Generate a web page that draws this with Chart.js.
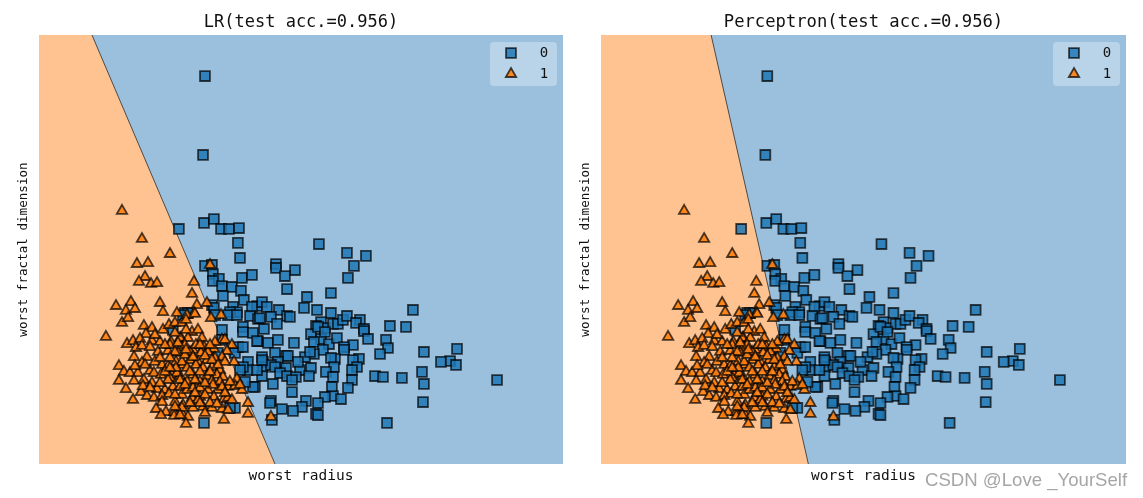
<!DOCTYPE html>
<html>
<head>
<meta charset="utf-8">
<script src="https://cdn.jsdelivr.net/npm/chart.js@4"></script>
<style>
    html, body { margin: 0; background: #fff; overflow: hidden; }
    #page { position: relative; width: 1143px; height: 498px; overflow: hidden; }
    canvas { position: absolute; top: 0; }
    #mark { position: absolute; left: 925px; top: 469px; font: 18.6px 'Liberation Sans'; color: #a6a6a6; white-space: nowrap; }
</style>
</head>
<body>
<div id="page">
    <canvas id="lr" width="582" height="498" style="left:0"></canvas>
    <canvas id="perceptron" width="581" height="498" style="left:562px"></canvas>
    <div id="mark">CSDN @Love _YourSelf</div>
</div>
<script>
const classNames = ['0', '1']
const xLabel = 'worst radius'
const yLabel = 'worst fractal dimension'

// each pair of rows lines up
const benignRadius = [
    15.10, 14.96, 13.23, 15.03, 15.74, 16.25, 16.82, 17.54, 17.46, 17.61,
    15.10, 15.60, 15.67, 16.10, 15.67, 16.32, 17.03, 17.75, 18.47, 17.68,
    16.39, 17.89, 17.11, 18.83, 19.19, 19.54, 18.47, 15.60,
    15.74, 13.66, 13.88, 17.39, 16.89, 18.33, 23.27, 25.28, 26.64, 25.78,
    25.35, 21.55, 20.19, 20.19, 20.83, 20.98, 22.41, 24.13, 22.20, 23.13,
    24.13, 20.40, 20.98, 21.19, 19.83, 18.90, 20.26, 19.33, 23.42, 23.06,
    23.70, 24.28, 24.63, 24.99, 25.28, 26.21, 25.93, 26.50, 28.36,
    18.90, 19.62, 20.33, 21.48, 22.70, 23.42, 23.20, 23.70, 22.91, 23.99,
    24.56, 26.50, 26.79, 25.71, 25.07, 25.07, 28.08, 28.22, 27.65, 23.56,
    22.91, 22.27, 22.63, 20.12, 20.91, 21.05, 19.19, 24.42, 24.13, 26.14,
    25.71, 26.00, 24.35, 23.77, 25.64, 24.28, 22.70, 21.91, 21.77, 19.26,
    20.33, 19.26, 19.83, 20.12, 20.91, 20.48, 20.98, 19.19, 21.62, 21.34,
    22.56, 27.29, 27.86, 25.64, 19.97, 18.68, 24.20, 25.35, 21.34, 24.28,
    23.70, 24.85, 22.34, 23.20, 22.05, 21.41, 20.62, 19.83, 19.76, 23.06,
    23.20, 19.90, 28.15, 30.01, 29.51, 30.80, 33.17, 32.67, 33.10, 32.02,
    30.66, 30.80, 36.04, 29.22, 30.73, 15.03, 17.25, 18.54, 18.18, 18.18,
    18.83, 17.82, 17.82, 18.54, 18.83, 16.32, 16.32, 16.75, 17.39, 19.04,
    15.82, 17.46, 17.97, 17.25, 16.03, 17.82, 16.89, 17.82, 19.19, 17.61,
    12.80, 13.52
]
const benignFractal = [
    .2070, .1730, .1411, .1437, .1454, .1411, .1411, .1415, .1351, .1286,
    .1252, .1256, .1217, .1196, .1187, .1165, .1161, .1200, .1213, .1144,
    .1122, .1105, .1075, .1079, .1096, .1075, .1075, .1083,
    .1071, .1049, .1049, .1053, .1053, .1036, .1346, .1308, .1295, .1252,
    .1200, .1234, .1260, .1243, .1208, .1152, .1118, .1135, .1071, .1062,
    .1049, .1062, .1036, .1032, .1032, .1023, .1002, .0980, .1010, .0993,
    .0984, .1002, .1002, .1019, .1036, .1019, .1006, .0980, .0993,
    .0928, .0920, .0933, .0920, .0958, .0937, .0989, .0967, .0924, .0915,
    .0941, .0971, .0937, .0911, .0902, .0890, .0933, .0898, .0872, .0890,
    .0872, .0859, .0881, .0877, .0864, .0864, .0859, .0851, .0855, .0851,
    .0846, .0816, .0816, .0795, .0803, .0773, .0812, .0803, .0838, .0838,
    .0838, .0816, .0825, .0816, .0812, .0790, .0777, .0777, .0773, .0760,
    .0777, .0777, .0773, .0760, .0743, .0730, .0730, .0726, .0708, .0691,
    .0687, .0678, .0670, .0661, .0644, .0627, .0635, .0670, .0661, .0614,
    .0609, .0588, .0575, .1062, .0989, .0881, .0894, .0842, .0825, .0838,
    .0795, .0743, .0760, .0769, .0665, .0575, .0640, .0730, .0838, .0803,
    .0803, .0989, .0967, .0963, .0928, .0976, .0933, .1040, .1040, .1027,
    .1040, .0902, .0752, .0877, .0877, .0816, .0640, .0902, .0846, .0803,
    .0976, .1040
]
const malignantRadius = [
    9.15, 10.58, 12.59, 10.22, 11.01, 15.46, 10.80, 10.37, 11.23, 11.66,
    14.31, 14.17, 11.87, 14.52, 15.24, 9.79, 8.72, 9.43, 10.08, 12.09,
    14.31, 16.25, 8.00, 9.15, 9.58, 10.72, 11.30, 10.87, 9.51, 9.94,
    10.44, 11.30, 12.09, 12.52, 13.09, 12.95, 13.45, 11.87, 12.66, 13.38,
    10.15, 10.58, 11.16, 11.73, 12.45, 13.38, 10.01, 10.94, 10.58, 11.51,
    8.93, 9.29, 9.72, 10.29, 11.16, 11.44, 12.02, 12.45, 13.02, 13.52,
    8.93, 10.01, 10.72, 11.30, 11.94, 12.73, 13.31, 9.43, 10.51, 10.65,
    10.94, 11.66, 12.23, 12.80, 13.31, 9.94, 11.44, 12.02, 12.52, 12.95,
    13.45, 12.02, 11.59, 12.30, 12.88, 11.94, 12.88, 13.52, 13.52, 13.81,
    14.38, 15.53, 13.74, 14.17, 14.60, 14.88, 13.31, 13.88, 15.03, 15.74,
    16.32, 16.53, 17.03, 16.68, 16.32, 17.18, 14.24, 14.81, 15.31, 13.16,
    14.02, 14.60, 15.24, 15.82, 16.53, 13.45, 13.81, 14.45, 14.96, 15.60,
    16.17, 13.09, 14.24, 15.24, 15.96, 16.39, 13.31, 13.81, 14.74, 15.60,
    16.17, 17.39, 13.81, 14.24, 15.31, 16.03, 16.75, 17.25, 17.75, 14.74,
    14.17, 16.46, 15.74, 18.18, 14.96, 15.60, 16.32, 14.24, 13.45, 16.75,
    13.88, 13.31, 13.74, 16.46, 18.18, 15.10, 14.60, 16.89, 16.75, 19.83,
    12.59, 12.95, 13.66, 14.02, 14.45, 14.74, 13.66, 14.24, 15.10, 12.59,
    13.02, 12.59, 14.02, 14.74, 15.46, 13.66, 14.74, 15.67, 16.32, 15.10,
    14.38, 12.95, 12.45, 11.87, 15.46, 14.74, 14.02, 12.95, 15.96, 17.03,
    13.16, 13.74, 15.82, 15.46, 12.23, 12.59, 14.38, 15.10, 16.53, 17.61,
    15.60, 16.03, 10.80, 10.08, 11.16, 11.87, 12.23, 11.51, 13.74, 12.95
]
const malignantFractal = [
    .1489, .1368, .1303, .1260, .1264, .1256, .1204, .1183, .1174, .1178,
    .1183, .1131, .1092, .1083, .1092, .1096, .1079, .1058, .1066, .1053,
    .1049, .1040, .0946, .1006, .1027, .0993, .0984, .0958, .0915, .0928,
    .0937, .0928, .0976, .0997, .1049, .1006, .1006, .0924, .0924, .0941,
    .0898, .0907, .0902, .0881, .0885, .0902, .0859, .0859, .0833, .0838,
    .0820, .0795, .0790, .0790, .0799, .0790, .0825, .0820, .0838, .0825,
    .0756, .0756, .0760, .0747, .0782, .0782, .0777, .0721, .0708, .0734,
    .0691, .0721, .0717, .0730, .0730, .0674, .0683, .0691, .0700, .0665,
    .0696, .0665, .0635, .0622, .0622, .0609, .0605, .0609, .0652, .1040,
    .1045, .1027, .1019, .0967, .0976, .0941, .0941, .0941, .0902, .0894,
    .0933, .0933, .0911, .0885, .0859, .0838, .0890, .0877, .0881, .0877,
    .0846, .0838, .0846, .0855, .0838, .0838, .0812, .0825, .0812, .0816,
    .0803, .0790, .0782, .0777, .0782, .0773, .0760, .0752, .0752, .0756,
    .0752, .0764, .0717, .0726, .0717, .0717, .0730, .0734, .0717, .0687,
    .0683, .0678, .0687, .0661, .0644, .0640, .0635, .0640, .0640, .0631,
    .0601, .0609, .0571, .0588, .0614, .0618, .0674, .0752, .0683, .0601,
    .0911, .0881, .0911, .0881, .0911, .0911, .0868, .0859, .0864, .0855,
    .0812, .0769, .0795, .0795, .0795, .0739, .0726, .0739, .0730, .0696,
    .0704, .0696, .0760, .0747, .0661, .0661, .0661, .0644, .0657, .0674,
    .0920, .0890, .0924, .0911, .0795, .0812, .0760, .0747, .0704, .0739,
    .0846, .0825, .0825, .0820, .0726, .0855, .0911, .0954, .0976, .0963
]

const radiusRange = [3.20, 40.77]
const fractalRange = [0.0398, 0.2247]

const blueFill = '#9bc0de'
const orangeFill = '#fec391'
const blueMark = 'rgba(31,119,180,.85)'
const orangeMark = 'rgba(255,127,14,.9)'
const edge = 'rgba(0,0,0,.7)'
const monoFont = "'DejaVu Sans Mono'"

const pairs = (xs, ys) => xs.map((x, i) => ({ x: x, y: ys[i] }))

const legendBox = {
    id: 'legendBox',
    afterDatasetsDraw(chart) {
        const ctx = chart.ctx
        const area = chart.chartArea
        const left = area.right - 73
        const top = area.top + 7
        ctx.save()
        ctx.beginPath()
        ctx.roundRect(left, top, 67, 44, 4)
        ctx.fillStyle = 'rgba(255,255,255,.3)'
        ctx.fill()
        ctx.lineWidth = 1.8
        ctx.strokeStyle = edge
        const marks = [
            { pointStyle: 'rect', radius: 7, fill: blueMark },
            { pointStyle: 'triangle', radius: 6, fill: orangeMark }
        ]
        classNames.forEach((name, i) => {
            const y = top + 11 + i * 21
            ctx.fillStyle = marks[i].fill
            Chart.helpers.drawPoint(ctx, { pointStyle: marks[i].pointStyle, radius: marks[i].radius, rotation: 0, borderWidth: 1.8 }, left + 21, y)
            ctx.fillStyle = '#111'
            ctx.font = '14px ' + monoFont
            ctx.textAlign = 'center'
            ctx.textBaseline = 'middle'
            ctx.fillText(name, left + 54, y)
        })
        ctx.restore()
    }
}

function drawPanel(id, title, titleSize, lineTop, lineBottom) {
    new Chart(document.getElementById(id), {
        type: 'scatter',
        plugins: [legendBox],
        data: {
            datasets: [
                {
                    data: pairs(radiusRange, [fractalRange[1], fractalRange[1]]),
                    showLine: true, fill: 'start', backgroundColor: blueFill,
                    borderWidth: 0, pointRadius: 0, order: 5
                },
                {
                    data: [
                        { x: radiusRange[0], y: fractalRange[1] },
                        { x: lineTop, y: fractalRange[1] },
                        { x: lineBottom, y: fractalRange[0] }
                    ],
                    showLine: true, fill: 'start', backgroundColor: orangeFill,
                    borderWidth: 0, pointRadius: 0, order: 4
                },
                {
                    data: [{ x: lineTop, y: fractalRange[1] }, { x: lineBottom, y: fractalRange[0] }],
                    showLine: true, borderColor: '#4a4a4a', borderWidth: 1, pointRadius: 0, order: 3
                },
                {
                    data: pairs(benignRadius, benignFractal),
                    pointStyle: 'rect', pointRadius: 7, pointBorderWidth: 1.8,
                    pointBackgroundColor: blueMark, pointBorderColor: edge, order: 2
                },
                {
                    data: pairs(malignantRadius, malignantFractal),
                    pointStyle: 'triangle', pointRadius: 6, pointBorderWidth: 1.8,
                    pointBackgroundColor: orangeMark, pointBorderColor: edge, order: 1
                }
            ]
        },
        options: {
            responsive: false,
            animation: false,
            devicePixelRatio: 1,
            layout: { padding: { right: id === 'lr' ? 19 : 17 } },
            plugins: {
                legend: { display: false },
                tooltip: { enabled: false },
                title: {
                    display: true,
                    text: title,
                    fullSize: false,
                    color: '#111',
                    font: { family: monoFont, size: titleSize, weight: 'normal' },
                    padding: { top: 12, bottom: 23 - titleSize * 1.2 }
                }
            },
            scales: {
                x: {
                    min: radiusRange[0],
                    max: radiusRange[1],
                    grid: { display: false },
                    border: { display: false },
                    ticks: { display: false },
                    afterFit: scale => { scale.height = 34 },
                    title: {
                        display: true, text: xLabel, color: '#111',
                        font: { family: monoFont, size: 14.5 },
                        padding: { top: 0, bottom: 13 }
                    }
                },
                y: {
                    min: fractalRange[0],
                    max: fractalRange[1],
                    grid: { display: false },
                    border: { display: false },
                    ticks: { display: false },
                    afterFit: scale => { scale.width = 39 },
                    title: {
                        display: true, text: yLabel, color: '#111',
                        font: { family: monoFont, size: 12.6 },
                        padding: { top: 16, bottom: 0 }
                    }
                }
            }
        }
    })
}

drawPanel('lr', 'LR(test acc.=0.956)', 17, 7.00, 20.12)
drawPanel('perceptron', 'Perceptron(test acc.=0.956)', 17.2, 11.08, 18.04)
</script>
</body>
</html>
